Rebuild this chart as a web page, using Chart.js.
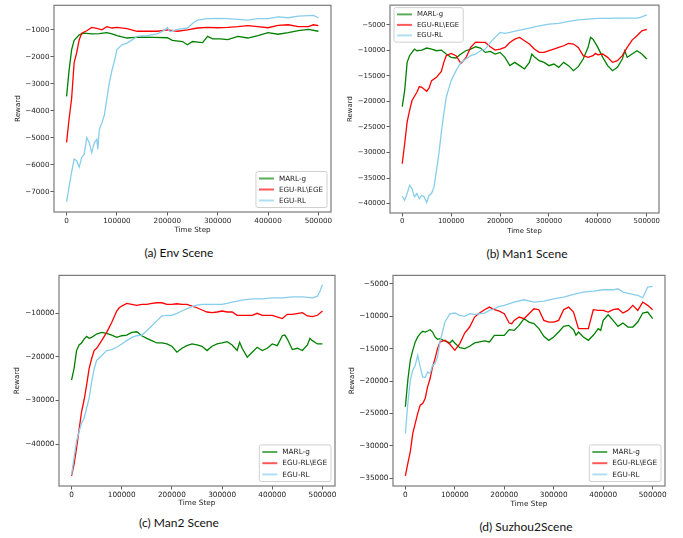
<!DOCTYPE html>
<html><head><meta charset="utf-8">
<script src="https://cdn.jsdelivr.net/npm/chart.js@4.4.0/dist/chart.umd.min.js"></script>
<style>
body{margin:0;background:#fff;width:683px;height:538px;position:relative;overflow:hidden}
canvas{position:absolute}
.cap{position:absolute;font-family:Lato,'Open Sans',sans-serif;font-size:12px;color:#111;transform:translate(-50%,-50%);white-space:nowrap}
</style></head><body>
<canvas id="pa" style="left:0px;top:0px" width="340" height="240"></canvas>
<canvas id="pb" style="left:340px;top:0px" width="343" height="240"></canvas>
<canvas id="pc" style="left:0px;top:270px" width="340" height="240"></canvas>
<canvas id="pd" style="left:340px;top:270px" width="343" height="240"></canvas>
<div class="cap" style="left:179px;top:252px">(a) Env Scene</div>
<div class="cap" style="left:527px;top:253px">(b) Man1 Scene</div>
<div class="cap" style="left:179px;top:522px">(c) Man2 Scene</div>
<div class="cap" style="left:526px;top:526px">(d) Suzhou2Scene</div>
<script>
// ---------- data ----------
const seriesNames = ['MARL-g', 'EGU-RL\\EGE', 'EGU-RL'];
const xTicks = [0, 100000, 200000, 300000, 400000, 500000];
const yTicksA = [-7000, -6000, -5000, -4000, -3000, -2000, -1000];
const yTicksB = [-40000, -35000, -30000, -25000, -20000, -15000, -10000, -5000];
const yTicksC = [-40000, -30000, -20000, -10000];
const yTicksD = [-35000, -30000, -25000, -20000, -15000, -10000, -5000];

// (a) Env Scene
const envMarl = [[0,-3470],[5000,-2500],[10000,-1740],[15000,-1400],[25000,-1190],[35000,-1130],[50000,-1160],[65000,-1150],[80000,-1110],[90000,-1160],[100000,-1220],[110000,-1270],[120000,-1310],[135000,-1290],[150000,-1280],[175000,-1290],[200000,-1300],[210000,-1400],[230000,-1440],[240000,-1560],[250000,-1440],[260000,-1460],[270000,-1480],[280000,-1250],[290000,-1340],[305000,-1340],[320000,-1370],[340000,-1250],[360000,-1310],[380000,-1220],[400000,-1110],[420000,-1170],[440000,-1110],[460000,-1040],[480000,-990],[500000,-1060]];
const envRed = [[0,-5173],[5000,-4300],[10000,-3550],[15000,-2220],[20000,-1860],[25000,-1380],[30000,-1130],[40000,-1040],[50000,-920],[60000,-950],[70000,-1010],[80000,-890],[90000,-940],[100000,-920],[120000,-960],[140000,-1060],[160000,-1060],[180000,-1060],[200000,-1010],[220000,-1060],[240000,-1010],[260000,-940],[280000,-920],[300000,-930],[320000,-920],[340000,-890],[360000,-850],[380000,-890],[400000,-930],[420000,-840],[440000,-820],[460000,-890],[480000,-890],[490000,-820],[500000,-850]];
const envBlue = [[0,-7363],[5000,-6820],[10000,-6270],[15000,-5790],[20000,-5850],[25000,-6090],[30000,-5730],[35000,-5610],[40000,-5000],[45000,-5190],[50000,-5550],[55000,-5190],[60000,-5060],[62000,-5430],[65000,-4700],[70000,-4460],[75000,-4160],[80000,-3550],[85000,-2950],[90000,-2520],[95000,-2160],[100000,-1740],[110000,-1560],[120000,-1500],[130000,-1380],[140000,-1250],[150000,-1230],[160000,-1220],[180000,-1160],[195000,-1010],[200000,-920],[205000,-1070],[220000,-990],[240000,-940],[250000,-770],[260000,-650],[280000,-590],[300000,-580],[320000,-590],[340000,-620],[360000,-650],[380000,-590],[400000,-590],[420000,-530],[440000,-560],[460000,-500],[480000,-480],[490000,-470],[500000,-560]];

// (b) Man1 Scene
const man1Marl = [[0,-21005],[5000,-17880],[10000,-12350],[15000,-11050],[20000,-10400],[25000,-9750],[30000,-10075],[40000,-9945],[50000,-9550],[60000,-9750],[70000,-10075],[80000,-9945],[90000,-10725],[100000,-11375],[110000,-11500],[120000,-10725],[130000,-10075],[140000,-9750],[150000,-9300],[160000,-9550],[170000,-10400],[180000,-10200],[190000,-10725],[200000,-10400],[210000,-11375],[220000,-13000],[230000,-12350],[240000,-13000],[250000,-13650],[260000,-12350],[265000,-10725],[270000,-11250],[280000,-12030],[290000,-12350],[300000,-13000],[310000,-12680],[320000,-13330],[330000,-12350],[340000,-13000],[350000,-13980],[360000,-13200],[370000,-11700],[380000,-9420],[385000,-7470],[390000,-7800],[400000,-9420],[410000,-11375],[420000,-13000],[430000,-13980],[440000,-13330],[450000,-11700],[455000,-10075],[460000,-11375],[470000,-10725],[480000,-10075],[490000,-10725],[500000,-11700]];
const man1Red = [[0,-32200],[5000,-28290],[10000,-24060],[15000,-21790],[20000,-19830],[30000,-18200],[35000,-17100],[40000,-17230],[50000,-18010],[55000,-17360],[60000,-15930],[70000,-15280],[80000,-14110],[85000,-12350],[90000,-11050],[100000,-10600],[110000,-11050],[120000,-12550],[130000,-11500],[140000,-9420],[150000,-8380],[160000,-8450],[170000,-8450],[180000,-9300],[190000,-9945],[200000,-9750],[210000,-9420],[220000,-8450],[230000,-7800],[240000,-7470],[250000,-8120],[260000,-8770],[270000,-9750],[280000,-10400],[290000,-10400],[300000,-10075],[310000,-9750],[320000,-9420],[330000,-9100],[340000,-8640],[350000,-8770],[360000,-9420],[370000,-11050],[380000,-11375],[390000,-11050],[395000,-10600],[400000,-10855],[410000,-10725],[420000,-11375],[430000,-12350],[440000,-12030],[450000,-11050],[460000,-9420],[470000,-7990],[480000,-7150],[490000,-6170],[500000,-5910]];
const man1Blue = [[0,-38570],[5000,-39350],[10000,-38050],[15000,-36430],[20000,-37080],[25000,-38700],[30000,-38050],[35000,-39030],[40000,-38380],[45000,-38700],[50000,-39800],[55000,-38380],[60000,-38050],[65000,-36750],[70000,-33500],[75000,-30240],[80000,-26020],[85000,-22440],[90000,-19180],[95000,-17550],[100000,-15930],[110000,-13980],[120000,-12350],[130000,-11700],[140000,-11050],[150000,-10725],[160000,-10075],[170000,-9750],[180000,-8450],[190000,-7470],[200000,-6500],[210000,-6690],[220000,-6500],[240000,-6040],[260000,-5650],[280000,-5200],[300000,-4870],[320000,-4740],[340000,-4350],[360000,-4020],[380000,-3900],[400000,-3760],[420000,-3760],[440000,-3700],[460000,-3700],[480000,-3700],[490000,-3440],[500000,-3050]];

// (c) Man2 Scene
const man2Marl = [[0,-25340],[5000,-22700],[10000,-18540],[15000,-17260],[20000,-16800],[25000,-15900],[30000,-15290],[35000,-15740],[40000,-15520],[50000,-14760],[60000,-14380],[70000,-14610],[80000,-14990],[90000,-15520],[100000,-15140],[110000,-14990],[120000,-14380],[130000,-14230],[140000,-15140],[150000,-15740],[160000,-16270],[170000,-16800],[180000,-16800],[190000,-17030],[200000,-17560],[210000,-18920],[220000,-18010],[230000,-17410],[240000,-17030],[250000,-17260],[260000,-17560],[270000,-18540],[280000,-17560],[290000,-17030],[300000,-16800],[310000,-16500],[320000,-17260],[330000,-18540],[335000,-16650],[340000,-18010],[350000,-20050],[360000,-18920],[370000,-17790],[380000,-18540],[390000,-18010],[400000,-17030],[410000,-17410],[420000,-15140],[425000,-14990],[430000,-15900],[440000,-18310],[450000,-18010],[460000,-18540],[470000,-17260],[475000,-15740],[480000,-16270],[490000,-17030],[500000,-17030]];
const man2Red = [[0,-47260],[5000,-44620],[10000,-40840],[15000,-36680],[20000,-32520],[25000,-29880],[30000,-26480],[35000,-22700],[40000,-20430],[45000,-18540],[50000,-18010],[60000,-16270],[70000,-14380],[80000,-12120],[90000,-9470],[95000,-8720],[100000,-8340],[110000,-7730],[120000,-7960],[130000,-8190],[140000,-7960],[150000,-7960],[160000,-7730],[170000,-7580],[180000,-7580],[190000,-7960],[200000,-7960],[210000,-7810],[220000,-7960],[230000,-7960],[240000,-8340],[250000,-8720],[260000,-9240],[270000,-9700],[280000,-9850],[290000,-9700],[300000,-9470],[310000,-9700],[320000,-9700],[330000,-10450],[340000,-10450],[360000,-10450],[370000,-10000],[380000,-10450],[400000,-10450],[420000,-11210],[430000,-10230],[440000,-10230],[460000,-9850],[470000,-10600],[480000,-10760],[490000,-10450],[500000,-9470]];
const man2Blue = [[0,-47040],[5000,-43110],[10000,-39330],[15000,-37060],[20000,-35170],[25000,-34040],[30000,-31770],[35000,-29500],[40000,-25720],[45000,-22700],[50000,-20810],[60000,-19670],[70000,-18540],[80000,-18310],[90000,-17790],[100000,-17030],[110000,-16270],[120000,-15520],[130000,-15140],[140000,-14990],[150000,-14010],[160000,-12870],[170000,-11740],[180000,-10600],[190000,-10450],[200000,-10450],[210000,-10000],[220000,-9470],[230000,-8940],[240000,-8490],[250000,-8110],[260000,-7960],[280000,-7960],[300000,-7960],[310000,-7730],[320000,-7430],[340000,-6980],[360000,-6670],[380000,-6670],[400000,-6450],[420000,-6450],[440000,-6220],[460000,-6220],[480000,-6450],[490000,-6070],[495000,-4940],[500000,-3420]];

// (d) Suzhou2 Scene
const suzMarl = [[0,-23970],[5000,-19870],[10000,-16790],[15000,-15260],[20000,-13970],[25000,-13200],[30000,-12690],[35000,-12330],[40000,-12440],[45000,-12280],[50000,-12080],[55000,-12440],[60000,-13200],[65000,-13560],[70000,-13460],[80000,-13820],[90000,-14130],[95000,-13720],[100000,-14130],[110000,-14850],[120000,-15000],[130000,-14640],[140000,-14130],[150000,-13970],[160000,-13820],[170000,-13970],[180000,-12950],[190000,-12950],[200000,-12950],[210000,-12080],[220000,-12180],[230000,-11410],[240000,-10380],[250000,-10900],[260000,-11150],[270000,-11920],[280000,-13100],[290000,-13720],[300000,-13200],[310000,-12440],[320000,-11560],[330000,-11410],[340000,-12080],[345000,-12950],[350000,-12440],[360000,-13200],[370000,-13720],[380000,-12950],[390000,-11920],[395000,-12180],[400000,-10640],[410000,-9770],[420000,-10640],[430000,-11560],[440000,-11050],[450000,-11670],[460000,-11670],[470000,-10900],[480000,-9510],[490000,-9360],[500000,-10380]];
const suzRed = [[0,-34640],[5000,-32690],[10000,-30900],[15000,-28080],[20000,-26540],[25000,-25000],[30000,-23720],[35000,-23460],[40000,-22690],[45000,-20900],[50000,-19620],[55000,-17820],[60000,-16540],[65000,-15000],[70000,-13970],[80000,-13720],[90000,-14330],[100000,-15260],[110000,-14230],[120000,-12590],[130000,-11670],[140000,-10130],[150000,-9510],[160000,-9000],[170000,-8590],[180000,-9000],[190000,-9210],[200000,-9620],[210000,-11050],[215000,-11150],[220000,-10640],[230000,-10130],[240000,-10380],[250000,-9620],[260000,-8850],[270000,-9000],[280000,-10640],[290000,-10900],[300000,-10900],[310000,-10640],[320000,-9000],[330000,-8590],[340000,-9360],[350000,-11920],[360000,-11920],[370000,-11920],[380000,-9000],[390000,-9100],[400000,-9100],[410000,-9360],[420000,-9000],[430000,-8850],[440000,-9510],[450000,-9100],[460000,-8330],[470000,-9100],[480000,-7820],[490000,-8330],[500000,-9000]];
const suzBlue = [[0,-28080],[5000,-23460],[10000,-19870],[15000,-18330],[20000,-17560],[25000,-16030],[30000,-17820],[35000,-19360],[40000,-19460],[45000,-18590],[50000,-18850],[55000,-17560],[60000,-17310],[65000,-16280],[70000,-13970],[75000,-12440],[80000,-10900],[90000,-9620],[100000,-9510],[110000,-9870],[120000,-10030],[130000,-9620],[140000,-9720],[150000,-9620],[160000,-9510],[170000,-9100],[180000,-8850],[190000,-8490],[200000,-8330],[220000,-7820],[240000,-7460],[260000,-7820],[280000,-7670],[300000,-7310],[320000,-7050],[340000,-6640],[360000,-6280],[380000,-6130],[400000,-5920],[420000,-5920],[430000,-5770],[440000,-6280],[460000,-6640],[470000,-6790],[480000,-7150],[490000,-5510],[500000,-5410]];

// ---------- styling ----------
const lineColors = ['#008000', '#ff0000', '#87ceeb'];
const FONT = 'DejaVu Sans';
Chart.defaults.font.family = FONT;
Chart.defaults.font.size = 7.2;
Chart.defaults.color = '#222';

const framePlugin = {
  id: 'frame',
  afterDatasetsDraw(chart) {
    const a = chart.chartArea, ctx = chart.ctx;
    ctx.save();
    ctx.strokeStyle = '#7a7a7a';
    ctx.lineWidth = 1.2;
    ctx.strokeRect(a.left, a.top, a.right - a.left, a.bottom - a.top);
    // legend
    const lg = chart.options.plugins.mplLegend;
    ctx.font = lg.fontSize + 'px ' + FONT;
    let tw = 0;
    seriesNames.forEach(n => { tw = Math.max(tw, ctx.measureText(n).width); });
    const bw = 3 + 15 + 5 + tw + 4, rowH = lg.rowH, bh = rowH * 3 + 3;
    let bx, by;
    if (lg.corner === 'lr') { bx = a.right - 4 - bw; by = a.bottom - 4.5 - bh; }
    else { bx = a.left + 4; by = a.top + 2.5; }
    ctx.beginPath();
    if (ctx.roundRect) ctx.roundRect(bx, by, bw, bh, 2); else ctx.rect(bx, by, bw, bh);
    ctx.fillStyle = 'rgba(255,255,255,0.85)';
    ctx.fill();
    ctx.strokeStyle = '#d0d0d0';
    ctx.lineWidth = 1;
    ctx.stroke();
    seriesNames.forEach((n, i) => {
      const cy = by + 1.5 + rowH / 2 + i * rowH;
      ctx.globalAlpha = 0.65;
      ctx.strokeStyle = lineColors[i];
      ctx.lineWidth = 2;
      ctx.beginPath();
      ctx.moveTo(bx + 3, cy); ctx.lineTo(bx + 18, cy); ctx.stroke();
      ctx.globalAlpha = 1;
      ctx.fillStyle = '#222';
      ctx.textBaseline = 'middle';
      ctx.textAlign = 'left';
      ctx.fillText(n, bx + 23, cy + 0.3);
    });
    ctx.restore();
  }
};

function fmt(v) { return v < 0 ? '\u2212' + Math.abs(v) : String(v); }

const panels = [
  {id: 'pa', L: 0, T: 0, W: 340, H: 240, area: [54, 2, 331, 212], yMin: -7750, yMax: -100, yTicks: yTicksA, data: [envMarl, envRed, envBlue], corner: 'lr', yTP: 13.7, xTP: 5.7, fs: 7.2, rowH: 11},
  {id: 'pb', L: 340, T: 0, W: 343, H: 240, area: [390, 5, 659, 213], yMin: -41850, yMax: -1150, yTicks: yTicksB, data: [man1Marl, man1Red, man1Blue], corner: 'ul', yTP: 5.7, xTP: 5, fs: 6.9, rowH: 10.5},
  {id: 'pc', L: 0, T: 270, W: 340, H: 240, area: [59, 272, 335, 486], yMin: -49600, yMax: -1300, yTicks: yTicksC, data: [man2Marl, man2Red, man2Blue], corner: 'lr', yTP: 12.4, xTP: 2.4, fs: 7.3, rowH: 11.2},
  {id: 'pd', L: 340, T: 270, W: 343, H: 240, area: [393, 275, 665, 486], yMin: -36200, yMax: -3700, yTicks: yTicksD, data: [suzMarl, suzRed, suzBlue], corner: 'lr', yTP: 8, xTP: 1.7, fs: 7.3, rowH: 11.2}
];

panels.forEach(p => {
  const [al, at, ar, ab] = p.area;
  new Chart(document.getElementById(p.id), {
    type: 'line',
    data: {
      datasets: p.data.map((d, i) => ({
        label: seriesNames[i],
        data: d.map(pt => ({x: pt[0], y: pt[1]})),
        borderColor: lineColors[i],
        borderWidth: 1.3,
        pointRadius: 0,
        tension: 0,
        fill: false,
        order: 2 - i
      }))
    },
    options: {
      responsive: false,
      animation: false,
      events: [],
      layout: {padding: {left: 0, top: at - p.T, right: p.L + p.W - ar, bottom: 0}},
      plugins: {legend: {display: false}, tooltip: {enabled: false}, mplLegend: {corner: p.corner, fontSize: p.fs, rowH: p.rowH}},
      scales: {
        x: {
          type: 'linear', min: -25000, max: 525000,
          afterBuildTicks: s => { s.ticks = xTicks.map(v => ({value: v})); },
          afterFit: s => { s.height = p.T + p.H - ab; },
          ticks: {callback: v => fmt(v), padding: 1, maxRotation: 0, autoSkip: false, font: {size: p.fs}},
          grid: {drawOnChartArea: false, drawTicks: true, tickLength: 3.5, tickColor: '#333', tickWidth: 0.8},
          border: {display: false},
          title: {display: true, text: 'Time Step', padding: {top: 0, bottom: p.xTP}, font: {size: p.fs}}
        },
        y: {
          type: 'linear', min: p.yMin, max: p.yMax,
          afterBuildTicks: s => { s.ticks = p.yTicks.map(v => ({value: v})); },
          afterFit: s => { s.width = al - p.L; },
          ticks: {callback: v => fmt(v), padding: 1, autoSkip: false, font: {size: p.fs}},
          grid: {drawOnChartArea: false, drawTicks: true, tickLength: 3.5, tickColor: '#333', tickWidth: 0.8},
          border: {display: false},
          title: {display: true, text: 'Reward', padding: {top: p.yTP, bottom: 0}, font: {size: p.fs}}
        }
      }
    },
    plugins: [framePlugin]
  });
});
</script>
</body></html>
